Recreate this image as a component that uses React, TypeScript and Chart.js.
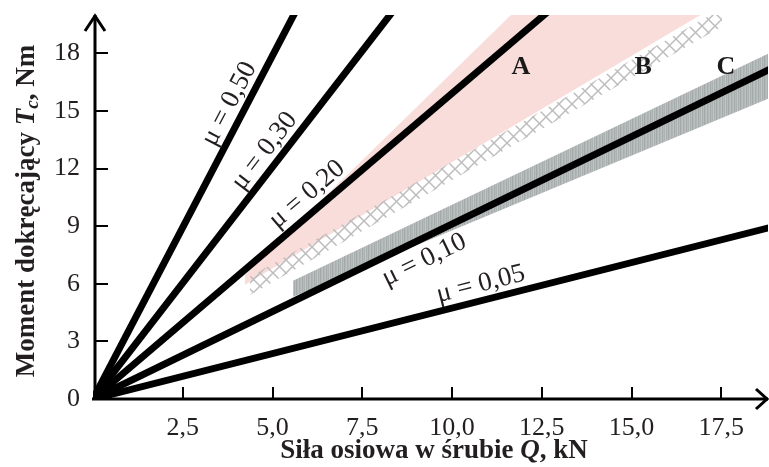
import React, { useEffect, useRef } from 'react';
import { Chart, registerables } from 'chart.js';

Chart.register(...registerables);

// ---- data ----
const xTicks = [0, 2.5, 5, 7.5, 10, 12.5, 15, 17.5];
const yTicks = [0, 3, 6, 9, 12, 15, 18];
const muLabels = ['μ = 0,50', 'μ = 0,30', 'μ = 0,20', 'μ = 0,10', 'μ = 0,05'];
const lineEndQ = [5.63, 8.33, 12.65, 18.85, 18.85];
const lineEndT = [20.14, 20.14, 20.14, 17.17, 8.93];
const labelAtQ = [4.19, 5.13, 6.27, 8.98, 10.91];
const labelSide = [-1, -1, -1, 1, -1];

const bandNames = ['A', 'B', 'C'];
const bandLabelQ = [11.92, 15.32, 17.63];
const bandLabelT = [17.27, 17.27, 17.27];

const bandAUpperQ = [4.23, 11.75, 17.1];
const bandAUpperT = [6.47, 20.2, 20.2];
const bandALowerQ = [4.23, 17.1];
const bandALowerT = [5.95, 20.2];

const bandBUpperQ = [4.37, 17.52];
const bandBUpperT = [6.36, 20.34];
const bandBLowerQ = [4.37, 17.52];
const bandBLowerT = [5.42, 19.4];

const bandCUpperQ = [5.57, 18.85];
const bandCUpperT = [6.16, 18.03];
const bandCLowerQ = [5.57, 18.85];
const bandCLowerT = [5.32, 15.68];

// ---- layout / style ----
const labelGapPx = [16, 16, 17, 20, 16];
const SERIF = "'Liberation Serif', 'Times New Roman', serif";
const TXT = '#231f20';

const pts = (qs: number[], ts: number[]) => qs.map((q, i) => ({ x: q, y: ts[i] }));
const comma = (v: number, d: number) => v.toFixed(d).replace('.', ',');

function makeHatch(): CanvasPattern | string {
  const n = 13;
  const c = document.createElement('canvas');
  c.width = n;
  c.height = n;
  const g = c.getContext('2d');
  if (!g) return 'rgba(190,190,190,0.6)';
  g.strokeStyle = 'rgba(185,185,185,0.95)';
  g.lineWidth = 1.5;
  g.beginPath();
  g.moveTo(0, 0); g.lineTo(n, n);
  g.moveTo(n, 0); g.lineTo(0, n);
  g.stroke();
  return g.createPattern(c, 'repeat') || 'rgba(190,190,190,0.6)';
}

function makeStreaks(): CanvasPattern | string {
  const cols = ['#b0b5b5', '#bcc0c0', '#a6acac', '#b6baba', '#acb1b1', '#c2c5c5', '#a9aeae', '#b8bcbc', '#a3a9a9', '#b4b8b8', '#babebe', '#aab0b0'];
  const c = document.createElement('canvas');
  c.width = cols.length;
  c.height = 4;
  const g = c.getContext('2d');
  if (!g) return '#b0b5b5';
  cols.forEach((col, i) => { g.fillStyle = col; g.fillRect(i, 0, 1, 4); });
  return g.createPattern(c, 'repeat') || '#b0b5b5';
}

type Part = { text: string; font: string; dy?: number };
function drawRich(ctx: CanvasRenderingContext2D, parts: Part[], cx: number, baseY: number) {
  let total = 0;
  parts.forEach((p) => { ctx.font = p.font; total += ctx.measureText(p.text).width; });
  let x = cx - total / 2;
  ctx.textAlign = 'left';
  ctx.textBaseline = 'alphabetic';
  parts.forEach((p) => {
    ctx.font = p.font;
    ctx.fillText(p.text, x, baseY + (p.dy || 0));
    x += ctx.measureText(p.text).width;
  });
}

const overlay = {
  id: 'overlay',
  afterDatasetsDraw(chart: any) {
    const ctx: CanvasRenderingContext2D = chart.ctx;
    const xs = chart.scales.x;
    const ys = chart.scales.y;
    const area = chart.chartArea;
    const ax = xs.getPixelForValue(0) + 2;
    const ay = ys.getPixelForValue(0);
    ctx.save();
    ctx.strokeStyle = '#000';
    ctx.fillStyle = '#000';
    // axes
    ctx.lineWidth = 3;
    ctx.lineCap = 'butt';
    ctx.beginPath();
    ctx.moveTo(ax, ay + 1.5);
    ctx.lineTo(ax, area.top);
    ctx.moveTo(ax - 3, ay);
    ctx.lineTo(area.right, ay);
    ctx.stroke();
    ctx.lineJoin = 'miter';
    ctx.beginPath();
    ctx.moveTo(ax - 10, area.top + 16);
    ctx.lineTo(ax, area.top + 1);
    ctx.lineTo(ax + 10, area.top + 16);
    ctx.moveTo(area.right - 12, ay - 10);
    ctx.lineTo(area.right - 1, ay);
    ctx.lineTo(area.right - 12, ay + 10);
    ctx.stroke();
    // ticks
    ctx.lineWidth = 2;
    ctx.beginPath();
    yTicks.forEach((v) => {
      if (v === 0) return;
      const y = Math.round(ys.getPixelForValue(v));
      ctx.moveTo(ax, y);
      ctx.lineTo(ax + 13, y);
    });
    xTicks.forEach((v) => {
      if (v === 0) return;
      const x = Math.round(xs.getPixelForValue(v));
      ctx.moveTo(x, ay);
      ctx.lineTo(x, ay - 12);
    });
    ctx.stroke();

    // mu labels
    ctx.fillStyle = TXT;
    ctx.font = `27px ${SERIF}`;
    ctx.textAlign = 'center';
    ctx.textBaseline = 'middle';
    muLabels.forEach((lab, i) => {
      const x0 = xs.getPixelForValue(0), y0 = ys.getPixelForValue(0);
      const x1 = xs.getPixelForValue(lineEndQ[i]), y1 = ys.getPixelForValue(lineEndT[i]);
      const a = Math.atan2(y1 - y0, x1 - x0);
      const ux = Math.cos(a), uy = Math.sin(a);
      const q = labelAtQ[i];
      const px = xs.getPixelForValue(q);
      const py = ys.getPixelForValue((q * lineEndT[i]) / lineEndQ[i]);
      const s = labelSide[i] === -1 ? 1 : -1;
      const cx = px + s * labelGapPx[i] * uy;
      const cy = py + s * labelGapPx[i] * -ux;
      ctx.save();
      ctx.translate(cx, cy);
      ctx.rotate(a);
      ctx.fillText(lab, 0, 0);
      ctx.restore();
    });

    // band letters
    ctx.fillStyle = '#1a1a1a';
    ctx.font = `bold 26px ${SERIF}`;
    bandNames.forEach((n, i) => {
      ctx.fillText(n, xs.getPixelForValue(bandLabelQ[i]), ys.getPixelForValue(bandLabelT[i]));
    });

    // axis titles
    ctx.fillStyle = TXT;
    const B = `bold 27px ${SERIF}`;
    const BI = `italic bold 27px ${SERIF}`;
    const BIs = `italic bold 19px ${SERIF}`;
    drawRich(ctx, [
      { text: 'Siła osiowa w śrubie ', font: B },
      { text: 'Q', font: BI },
      { text: ', kN', font: B },
    ], 434, 458);
    ctx.save();
    ctx.translate(34, 211);
    ctx.rotate(-Math.PI / 2);
    drawRich(ctx, [
      { text: 'Moment dokręcający ', font: B },
      { text: 'T', font: BI },
      { text: 'c', font: BIs, dy: 4 },
      { text: ', Nm', font: B },
    ], 0, 0);
    ctx.restore();
    ctx.restore();
  },
};

export default function App() {
  const ref = useRef<HTMLCanvasElement | null>(null);
  useEffect(() => {
    if (!ref.current) return;
    const hatch = makeHatch();
    const streaks = makeStreaks();
    const bandBase = { pointRadius: 0, borderWidth: 0, tension: 0, showLine: true };
    const datasets: any[] = [
      { ...bandBase, data: pts(bandAUpperQ, bandAUpperT), fill: '+1', backgroundColor: 'rgb(248,221,218)', order: 3 },
      { ...bandBase, data: pts(bandALowerQ, bandALowerT), fill: false, order: 3 },
      { ...bandBase, data: pts(bandBUpperQ, bandBUpperT), fill: '+1', backgroundColor: hatch, order: 2 },
      { ...bandBase, data: pts(bandBLowerQ, bandBLowerT), fill: false, order: 2 },
      { ...bandBase, data: pts(bandCUpperQ, bandCUpperT), fill: '+1', backgroundColor: streaks, order: 2 },
      { ...bandBase, data: pts(bandCLowerQ, bandCLowerT), fill: false, order: 2 },
      ...muLabels.map((lab, i) => ({
        label: lab,
        data: [{ x: 0, y: 0 }, { x: lineEndQ[i], y: lineEndT[i] }],
        borderColor: '#000',
        borderWidth: 7,
        borderCapStyle: 'butt',
        pointRadius: 0,
        fill: false,
        tension: 0,
        order: 0,
      })),
    ];
    const chart = new Chart(ref.current, {
      type: 'line',
      data: { datasets },
      options: {
        animation: false,
        responsive: false,
        devicePixelRatio: 1,
        layout: { padding: { top: 15, right: 1, left: 0, bottom: 0 } },
        plugins: { legend: { display: false }, tooltip: { enabled: false } },
        scales: {
          x: {
            type: 'linear',
            min: 0,
            max: 18.8,
            afterBuildTicks: (s: any) => { s.ticks = xTicks.map((v) => ({ value: v })); },
            afterFit: (s: any) => { s.height = 68; s.paddingLeft = 0; s.paddingRight = 0; },
            grid: { display: false, drawTicks: false },
            border: { display: false },
            ticks: {
              autoSkip: false,
              maxRotation: 0,
              padding: 14,
              color: TXT,
              font: { family: SERIF, size: 26 },
              callback: (v: any) => (Number(v) === 0 ? '' : comma(Number(v), 1)),
            },
          },
          y: {
            type: 'linear',
            min: 0,
            max: 20,
            afterBuildTicks: (s: any) => { s.ticks = yTicks.map((v) => ({ value: v })); },
            afterFit: (s: any) => { s.width = 93; s.paddingTop = 0; s.paddingBottom = 0; },
            grid: { display: false, drawTicks: false },
            border: { display: false },
            ticks: {
              autoSkip: false,
              padding: 13,
              color: TXT,
              font: { family: SERIF, size: 26 },
              callback: (v: any) => String(v),
            },
          },
        },
      },
      plugins: [overlay],
    } as any);
    return () => chart.destroy();
  }, []);
  return (
    <div style={{ position: 'fixed', left: 0, top: 0, width: 769, height: 467, background: '#fff' }}>
      <canvas ref={ref} width={769} height={467} style={{ display: 'block' }} />
    </div>
  );
}
